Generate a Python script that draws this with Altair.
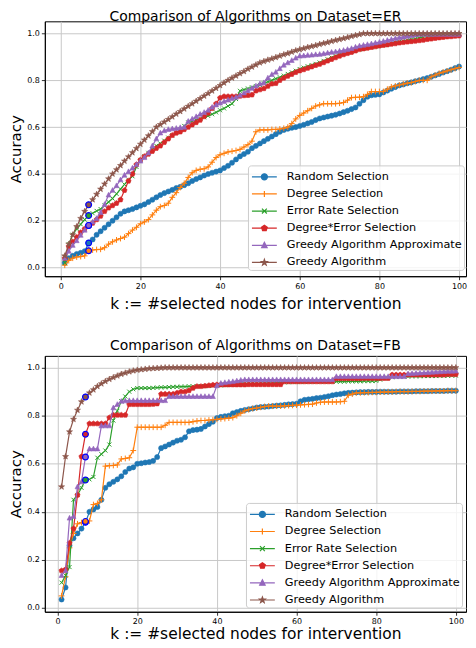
import altair as alt
import pandas as pd

K = list(range(1, 101))
SERIES = ["Random Selection", "Degree Selection", "Error Rate Selection",
          "Degree*Error Selection", "Greedy Algorithm Approximate", "Greedy Algorithm"]
COLORS = ["#1f77b4", "#ff7f0e", "#2ca02c", "#d62728", "#9467bd", "#8c564b"]
HIGHLIGHT_K = 7
X_TICKS = [0, 20, 40, 60, 80, 100]
Y_TICKS = [0.0, 0.2, 0.4, 0.6, 0.8, 1.0]

# ---------------- Dataset = ER ----------------
ER_RANDOM = [.02, .04, .05, .058, .063, .07, .105, .12, .14, .155,
             .17, .185, .20, .215, .23, .24, .245, .25, .257, .264,
             .27, .28, .29, .30, .31, .318, .325, .332, .34, .345,
             .352, .36, .37, .378, .385, .393, .40, .405, .41, .415,
             .425, .435, .448, .462, .475, .485, .495, .51, .52, .53,
             .54, .55, .56, .57, .58, .588, .593, .597, .60, .605,
             .61, .616, .622, .63, .637, .641, .645, .649, .653, .658,
             .664, .67, .677, .684, .70, .715, .73, .736, .738, .74,
             .748, .756, .764, .771, .778, .782, .787, .791, .796, .80,
             .805, .81, .815, .821, .827, .833, .839, .845, .852, .859]
ER_DEGREE = [.01, .03, .04, .045, .047, .05, .072, .075, .077, .078,
             .085, .10, .11, .118, .124, .13, .145, .16, .172, .187,
             .195, .205, .225, .245, .26, .265, .275, .30, .32, .342,
             .36, .385, .405, .415, .42, .422, .43, .45, .47, .482,
             .488, .494, .497, .50, .505, .515, .525, .54, .58, .588,
             .588, .588, .59, .59, .592, .595, .60, .615, .635, .65,
             .66, .67, .68, .69, .695, .70, .70, .70, .70, .702,
             .705, .715, .726, .727, .728, .73, .74, .752, .752, .752,
             .752, .762, .772, .776, .78, .784, .788, .79, .795, .80,
             .80, .80, .815, .822, .83, .835, .84, .845, .85, .855]
ER_ERROR = [.02, .10, .14, .165, .185, .205, .222, .232, .242, .25,
            .265, .28, .295, .315, .335, .355, .375, .39, .43, .46,
            .475, .49, .505, .52, .53, .542, .555, .565, .575, .59,
            .605, .62, .625, .63, .636, .642, .648, .655, .663, .672,
            .68, .69, .70, .72, .755, .76, .765, .77, .775, .78,
            .787, .794, .80, .807, .813, .82, .827, .834, .841, .848,
            .854, .86, .865, .87, .876, .883, .89, .897, .904, .911,
            .915, .919, .923, .928, .932, .935, .938, .941, .944, .947,
            .95, .954, .958, .962, .965, .968, .972, .975, .978, .982,
            .984, .986, .988, .989, .99, .991, .993, .994, .995, .996]
ER_DEGERR = [.04, .09, .11, .13, .15, .165, .18, .19, .205, .22,
             .24, .255, .265, .275, .29, .33, .37, .40, .44, .46,
             .475, .485, .497, .51, .52, .535, .55, .565, .575, .58,
             .59, .60, .61, .62, .63, .645, .66, .68, .70, .725,
             .731, .731, .731, .731, .733, .735, .736, .738, .755, .76,
             .765, .775, .785, .787, .80, .81, .818, .826, .834, .841,
             .846, .852, .858, .864, .869, .876, .883, .89, .897, .904,
             .91, .915, .92, .926, .932, .935, .938, .941, .944, .947,
             .95, .952, .955, .957, .96, .962, .964, .966, .968, .97,
             .972, .975, .977, .98, .982, .984, .986, .987, .989, .99]
ER_APPROX = [.04, .07, .095, .115, .138, .16, .18, .195, .21, .235,
             .27, .31, .33, .35, .375, .395, .41, .425, .44, .455,
             .47, .49, .52, .55, .575, .585, .59, .593, .595, .598,
             .60, .625, .635, .645, .655, .663, .672, .685, .695, .703,
             .71, .716, .722, .728, .736, .746, .756, .766, .776, .785,
             .79, .81, .825, .835, .85, .865, .875, .885, .895, .904,
             .905, .907, .908, .91, .911, .914, .917, .92, .922, .925,
             .928, .932, .936, .942, .947, .95, .953, .956, .96, .963,
             .967, .971, .975, .979, .982, .985, .988, .991, .994, .996,
             .997, .997, .997, .997, .997, .997, .997, .997, .997, .997]
ER_GREEDY = [.05, .10, .14, .175, .21, .24, .268, .29, .313, .335,
             .357, .379, .40, .418, .436, .455, .473, .491, .509, .527,
             .545, .563, .581, .60, .611, .622, .633, .644, .656, .667,
             .678, .689, .70, .711, .722, .733, .744, .755, .766, .778,
             .789, .80, .81, .819, .829, .838, .848, .857, .866, .875,
             .881, .887, .892, .898, .904, .91, .915, .921, .927, .932,
             .936, .941, .945, .949, .954, .958, .962, .967, .971, .975,
             .979, .983, .988, .992, .996, 1.0, 1.0, 1.0, 1.0, 1.0,
             1.0, 1.0, 1.0, 1.0, 1.0, 1.0, 1.0, 1.0, 1.0, 1.0,
             1.0, 1.0, 1.0, 1.0, 1.0, 1.0, 1.0, 1.0, 1.0, 1.0]

# ---------------- Dataset = FB ----------------
FB_RANDOM = [.035, .085, .26, .29, .31, .33, .356, .40, .41, .42,
             .45, .50, .515, .525, .535, .548, .566, .58, .585, .60,
             .602, .605, .607, .612, .628, .665, .672, .68, .688, .696,
             .70, .71, .735, .74, .742, .745, .755, .765, .775, .79,
             .795, .798, .80, .81, .815, .82, .824, .827, .83, .834,
             .836, .837, .838, .84, .842, .843, .845, .847, .848, .85,
             .86, .866, .868, .87, .873, .875, .878, .881, .885, .888,
             .89, .893, .895, .896, .897, .898, .898, .899, .899, .899,
             .90, .90, .90, .90, .90, .901, .901, .901, .901, .902,
             .902, .902, .902, .903, .903, .903, .903, .904, .904, .904]
FB_DEGREE = [.05, .13, .25, .31, .35, .355, .36, .362, .43, .435,
             .45, .59, .592, .593, .595, .62, .622, .625, .655, .752,
             .752, .752, .752, .752, .752, .752, .76, .772, .772, .772,
             .772, .772, .772, .775, .778, .78, .78, .782, .783, .785,
             .787, .788, .79, .792, .80, .81, .82, .825, .83, .832,
             .835, .838, .84, .84, .84, .84, .841, .842, .843, .844,
             .845, .846, .847, .848, .853, .856, .857, .857, .857, .857,
             .858, .86, .885, .89, .895, .895, .896, .896, .897, .897,
             .898, .898, .899, .899, .90, .90, .90, .90, .901, .901,
             .901, .902, .902, .902, .903, .903, .903, .904, .904, .904]
FB_ERROR = [.105, .135, .17, .45, .47, .50, .532, .535, .545, .625,
            .64, .655, .68, .78, .82, .86, .88, .90, .91, .915,
            .915, .915, .915, .916, .917, .918, .918, .919, .92, .92,
            .921, .921, .922, .922, .922, .923, .923, .924, .925, .925,
            .926, .927, .928, .929, .93, .932, .934, .935, .935, .935,
            .936, .936, .937, .937, .938, .938, .939, .939, .94, .94,
            .94, .941, .941, .941, .942, .942, .942, .942, .942, .942,
            .942, .942, .943, .943, .943, .943, .944, .944, .944, .945,
            .95, .955, .958, .96, .961, .962, .963, .963, .964, .964,
            .964, .965, .965, .965, .965, .966, .966, .966, .967, .967]
FB_DEGERR = [.155, .16, .27, .33, .47, .63, .723, .767, .767, .767,
             .767, .767, .792, .803, .803, .803, .803, .847, .847, .847,
             .847, .847, .847, .848, .85, .89, .89, .89, .89, .895,
             .90, .90, .905, .915, .922, .922, .924, .926, .928, .929,
             .929, .929, .929, .929, .929, .929, .929, .93, .93, .93,
             .93, .93, .93, .93, .93, .93, .942, .942, .942, .942,
             .942, .942, .942, .942, .942, .942, .942, .942, .942, .955,
             .955, .955, .955, .955, .955, .955, .956, .956, .956, .956,
             .956, .956, .956, .97, .97, .97, .97, .97, .97, .97,
             .97, .97, .97, .97, .97, .97, .97, .972, .972, .972]
FB_APPROX = [.135, .155, .374, .381, .504, .525, .628, .662, .662, .662,
             .758, .758, .758, .833, .847, .86, .862, .863, .863, .863,
             .863, .863, .863, .863, .863, .863, .863, .88, .88, .88,
             .88, .88, .88, .88, .88, .88, .88, .88, .88, .925,
             .935, .938, .94, .942, .945, .948, .95, .95, .95, .95,
             .95, .95, .95, .95, .95, .95, .95, .95, .95, .95,
             .95, .95, .95, .95, .95, .95, .95, .95, .95, .963,
             .963, .963, .963, .963, .963, .963, .963, .963, .963, .963,
             .963, .963, .963, .963, .963, .963, .963, .975, .976, .977,
             .978, .979, .98, .981, .982, .983, .984, .985, .985, .986]
FB_GREEDY = [.504, .63, .733, .785, .823, .858, .878, .895, .908, .922,
             .933, .943, .952, .959, .966, .973, .978, .983, .987, .99,
             .992, .994, .996, .997, .998, .999, 1.0, 1.0, 1.0, 1.0,
             1.0, 1.0, 1.0, 1.0, 1.0, 1.0, 1.0, 1.0, 1.0, 1.0,
             1.0, 1.0, 1.0, 1.0, 1.0, 1.0, 1.0, 1.0, 1.0, 1.0,
             1.0, 1.0, 1.0, 1.0, 1.0, 1.0, 1.0, 1.0, 1.0, 1.0,
             1.0, 1.0, 1.0, 1.0, 1.0, 1.0, 1.0, 1.0, 1.0, 1.0,
             1.0, 1.0, 1.0, 1.0, 1.0, 1.0, 1.0, 1.0, 1.0, 1.0,
             1.0, 1.0, 1.0, 1.0, 1.0, 1.0, 1.0, 1.0, 1.0, 1.0,
             1.0, 1.0, 1.0, 1.0, 1.0, 1.0, 1.0, 1.0, 1.0, 1.0]

ER = [ER_RANDOM, ER_DEGREE, ER_ERROR, ER_DEGERR, ER_APPROX, ER_GREEDY]
FB = [FB_RANDOM, FB_DEGREE, FB_ERROR, FB_DEGERR, FB_APPROX, FB_GREEDY]

# ---------------- marker shapes (style) ----------------
PLUS = "M -1 0 L 1 0 M 0 -1 L 0 1"
XMARK = "M -0.8 -0.8 L 0.8 0.8 M -0.8 0.8 L 0.8 -0.8"
PENT = "M 0 -1 L 0.951 -0.309 L 0.588 0.809 L -0.588 0.809 L -0.951 -0.309 Z"
TRI = "M 0 -1 L 0.9 0.75 L -0.9 0.75 Z"
STAR = ("M 0 -1 L 0.235 -0.324 L 0.951 -0.309 L 0.38 0.124 L 0.588 0.809 "
        "L 0 0.4 L -0.588 0.809 L -0.38 0.124 L -0.951 -0.309 L -0.235 -0.324 Z")
SHAPES = ["circle", PLUS, XMARK, PENT, TRI, STAR]
FILLED = [True, False, False, True, True, True]
SIZES = [26, 34, 26, 30, 30, 40]


def scaled(path, s):
    out = []
    for t in path.split():
        try:
            out.append(f"{float(t) * s:.3f}")
        except ValueError:
            out.append(t)
    return " ".join(out)


# legend symbols: a 25px line with the marker in its middle (box = 17px)
LS = 0.36
LINE = "M -1.47 0 L 1.47 0 "
LEG_CIRCLE = (LINE + f"M {LS} 0 A {LS} {LS} 0 1 1 {-LS} 0 "
              f"A {LS} {LS} 0 1 1 {LS} 0 Z")
LEGEND_SHAPES = [LEG_CIRCLE] + [LINE + scaled(p, LS) for p in SHAPES[1:]]

FONT = "DejaVu Sans"


def long_df(arrays):
    rows = []
    for name, vals in zip(SERIES, arrays):
        for k, v in zip(K, vals):
            rows.append({"k": k, "acc": v, "series": name})
    return pd.DataFrame(rows)


def panel(arrays, title, xdom, ydom, w, h, lx, ly, x_label_pad, x_title_pad, title_offset):
    df = long_df(arrays)
    base = alt.Chart(df)
    x = alt.X("k:Q", scale=alt.Scale(domain=xdom, nice=False, zero=False),
              axis=alt.Axis(values=X_TICKS, title="k := #selected nodes for intervention",
                            titleFontSize=15.5, titlePadding=x_title_pad,
                            labelPadding=x_label_pad))
    y = alt.Y("acc:Q", scale=alt.Scale(domain=ydom, nice=False, zero=False),
              axis=alt.Axis(values=Y_TICKS, format=".1f", title="Accuracy",
                            titleFontSize=15, titlePadding=3))
    layers = []
    for name, col, shp, fil, sz in zip(SERIES, COLORS, SHAPES, FILLED, SIZES):
        sub = base.transform_filter(alt.datum.series == name)
        layers.append(sub.mark_line(color=col, strokeWidth=1.2).encode(x=x, y=y))
        if fil:
            pm = sub.mark_point(shape=shp, size=sz, filled=True, fill=col, stroke=col,
                                strokeWidth=0.6, opacity=1)
        else:
            pm = sub.mark_point(shape=shp, size=sz, filled=False, stroke=col,
                                strokeWidth=1, opacity=1)
        layers.append(pm.encode(x=x, y=y))
    for name, col in zip(SERIES, COLORS):
        sub = base.transform_filter((alt.datum.series == name) & (alt.datum.k == HIGHLIGHT_K))
        layers.append(sub.mark_point(shape="circle", size=34, filled=True, fill=col,
                                     stroke="blue", strokeWidth=1.2, opacity=1).encode(x=x, y=y))
    leg = alt.Legend(title=None, orient="none", legendX=lx, legendY=ly,
                     labelFont=FONT, labelFontSize=11.3, labelColor="black",
                     symbolSize=289, symbolStrokeWidth=1.2, symbolOpacity=1,
                     symbolOffset=5, labelOffset=13, rowPadding=2.2, padding=2,
                     labelLimit=400,
                     fillColor="rgba(255,255,255,0.8)", strokeColor="#cccccc",
                     cornerRadius=3)
    legend_layer = base.transform_filter(alt.datum.k == 1).mark_point(
        filled=True, opacity=0).encode(
        x=x, y=y,
        shape=alt.Shape("series:N", scale=alt.Scale(domain=SERIES, range=LEGEND_SHAPES), legend=leg),
        fill=alt.Fill("series:N", scale=alt.Scale(domain=SERIES, range=COLORS), legend=leg),
        stroke=alt.Stroke("series:N", scale=alt.Scale(domain=SERIES, range=COLORS), legend=leg),
    )
    layers.append(legend_layer)
    return alt.layer(*layers).properties(
        width=w, height=h,
        title=alt.TitleParams(title, fontSize=14, font=FONT, fontWeight="normal",
                              color="black", offset=title_offset))


top = panel(ER, "Comparison of Algorithms on Dataset=ER", [-4, 101.75], [-0.037, 1.052],
            423, 256, 204, 144.7, 3, 6, -3)
bottom = panel(FB, "Comparison of Algorithms on Dataset=FB", [-3.2, 102.55], [-0.016, 1.049],
               423, 257, 202, 147.7, 2, 1.5, 3)

chart = alt.vconcat(top, bottom, spacing=25).resolve_scale(
    shape="independent", fill="independent", stroke="independent"
).resolve_legend(
    shape="independent", fill="independent", stroke="independent"
).properties(
    padding={"left": 0, "top": 0, "right": 0, "bottom": -2}
).configure(font=FONT).configure_view(
    stroke="black", strokeWidth=1
).configure_axis(
    labelFont=FONT, titleFont=FONT, labelFontSize=8, labelColor="black",
    titleColor="black", titleFontWeight="normal", tickColor="black", tickSize=3.5,
    tickWidth=0.8, domainColor="black", gridColor="#c8c8c8", gridWidth=1
)

chart.save("out.html", embed_options={"renderer": "svg", "actions": False})
